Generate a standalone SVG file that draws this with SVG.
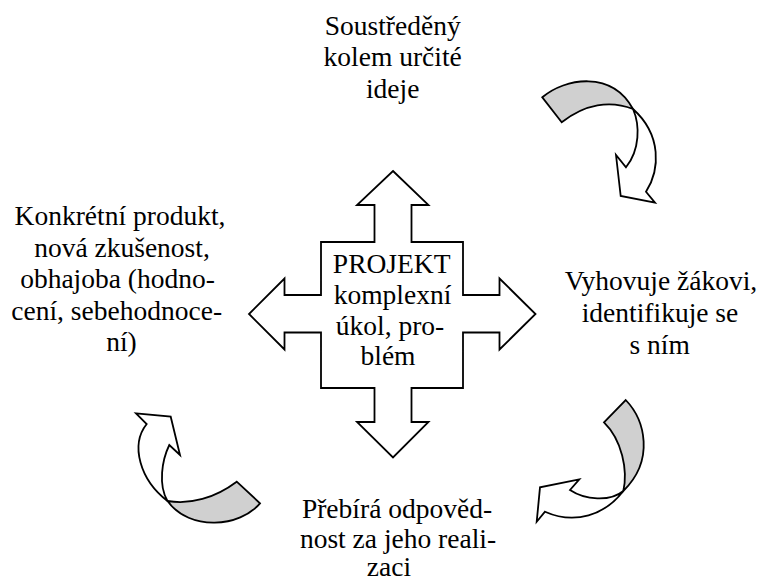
<svg xmlns="http://www.w3.org/2000/svg" width="760" height="581" viewBox="0 0 760 581">
<style>
.t{font-family:"Liberation Serif","DejaVu Serif",serif;font-size:27.5px;fill:#000;text-anchor:middle}
.s{stroke:#000;stroke-width:1.8;stroke-linejoin:miter}
.g{fill:#d0d0d0}
.w{fill:#fff}
</style>
<rect width="760" height="581" fill="#fff"/>
<g id="center">
<polygon class="s w" points="393,171 428.5,205 411.5,205 411.5,242 463,242 463,295 499.5,295 499.5,278.5 535.5,314 499.5,349.5 499.5,332.5 463,332.5 463,388 411.5,388 411.5,422 428.5,422 393,457.5 357,422 374.5,422 374.5,388 321,388 321,332.5 284.5,332.5 284.5,349.5 249,314 284.5,278.5 284.5,295 321,295 321,242 374.5,242 374.5,205 357,205"/>
<text class="t"><tspan x="391.7" y="273.3">PROJEKT</tspan><tspan x="392.5" y="303.9">komplexní</tspan><tspan x="390" y="334.5">úkol, pro-</tspan><tspan x="388" y="365.1">blém</tspan></text>
</g>
<g id="top">
<text class="t"><tspan x="392.7" y="35">Soustředěný</tspan><tspan x="392.7" y="66.3">kolem určité</tspan><tspan x="392.7" y="97.6">ideje</tspan></text>
</g>
<g id="right">
<text class="t"><tspan x="661" y="290">Vyhovuje žákovi,</tspan><tspan x="660" y="321.8">identifikuje se</tspan><tspan x="659.7" y="353.5">s ním</tspan></text>
</g>
<g id="bottom">
<text class="t"><tspan x="397" y="517.5">Přebírá odpověd-</tspan><tspan x="398" y="547.5">nost za jeho reali-</tspan><tspan x="389" y="576">zaci</tspan></text>
</g>
<g id="left">
<text class="t"><tspan x="120" y="225">Konkrétní produkt,</tspan><tspan x="122" y="256.5">nová zkušenost,</tspan><tspan x="117.5" y="288">obhajoba (hodno-</tspan><tspan x="116.7" y="319.5">cení, sebehodnoce-</tspan><tspan x="121.5" y="351">ní)</tspan></text>
</g>
<g id="connectors">
<g id="arrow-top-right">
<path class="s g" d="M542.3,97.3 C565,78 612,70 633,109 C610,100 585,104 561.7,122.3 Z"/>
<path class="s w" d="M633,109 C640,125 640,150 626,167.3 L616,155 L620.7,196 L655,202.7 L646,191.7 C660,170 662,135 633,109 Z"/>
</g>
<g id="arrow-bottom-right">
<path class="s g" d="M604,422.3 L625.7,400 C645,420 655,460 623.3,491 C628,470 622,440 604,422.3 Z"/>
<path class="s w" d="M623.3,491 C605,515 575,525 545,511.7 L536.7,521.7 L540,487.3 L579.3,479.3 L570,490 C585,500 610,502 623.3,491 Z"/>
</g>
<g id="arrow-bottom-left">
<path class="s g" d="M236.7,481.7 L260,503.3 C240,527 190,532 167.5,501 C190,505 215,498 236.7,481.7 Z"/>
<path class="s w" d="M167.5,501 C140,480 130,445 146.7,424 L136,413.3 L170.7,416.7 L180,455 L169.3,445 C162,460 158,485 167.5,501 Z"/>
</g>
</g>
</svg>
